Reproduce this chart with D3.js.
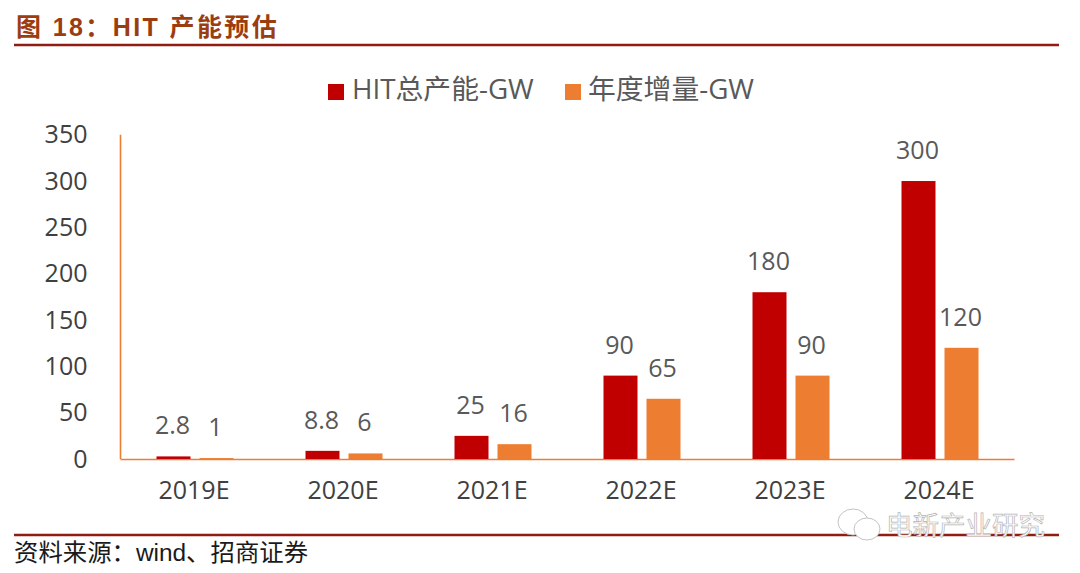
<!DOCTYPE html>
<html><head><meta charset="utf-8">
<script src="https://cdn.jsdelivr.net/npm/d3@7"></script>
<style>html,body{margin:0;padding:0;background:#fff}svg{display:block}</style>
</head><body><svg id="c" width="1080" height="573"></svg>
<script>
const categories=["2019E","2020E","2021E","2022E","2023E","2024E"];
const totalCapacity=[2.8,8.8,25,90,180,300];
const annualAdd=[1,6,16,65,90,120];
const yTicks=[0,50,100,150,200,250,300,350];
const seriesNames=["HIT总产能-GW","年度增量-GW"];
const titleText="图 18：HIT 产能预估";
const sourceText="资料来源：wind、招商证券";
const watermarkText="电新产业研究";

const sans='"Open Sans","Noto Sans CJK SC",sans-serif';
const cjk='"Liberation Sans","Noto Sans CJK SC",sans-serif';
const svg=d3.select("#c");
const x=d3.scaleBand().domain(categories).range([120.5,1014.5]);
const y=d3.scaleLinear().domain([0,350]).range([459,134.7]);
const barW=34,gap=9;
const red="#c00000",orange="#ed7d31",ink="#595959",rule="#8f1d12";

svg.append("text").attr("x",16).attr("y",36).attr("fill","#9c3d10")
  .style("font",`bold 25px ${cjk}`).style("letter-spacing","2.4px").text(titleText);
svg.append("line").attr("x1",14).attr("x2",1059).attr("y1",45).attr("y2",45).attr("stroke",rule).attr("stroke-width",2.5);
svg.append("line").attr("x1",14).attr("x2",1059).attr("y1",535).attr("y2",535).attr("stroke",rule).attr("stroke-width",2.5);

// legend
[[328,352],[565,588]].forEach((p,i)=>{
  svg.append("rect").attr("x",p[0]).attr("y",84).attr("width",16).attr("height",16).attr("fill",i?orange:red);
  svg.append("text").attr("x",p[1]).attr("y",99).attr("fill",ink)
    .style("font",`27.8px ${sans}`).text(seriesNames[i]);
});

// axes
const ga=svg.append("g").attr("transform","translate(120.5,0)")
  .call(d3.axisLeft(y).tickValues(yTicks).tickSize(0).tickPadding(33));
ga.select(".domain").attr("stroke",orange).attr("stroke-width",1.6).attr("d",`M0,${y(350)}V${y(0)}`);
ga.selectAll("text").attr("fill","#404040").style("font",`25px ${sans}`);

const gx=svg.append("g").attr("transform","translate(-1,459.5)")
  .call(d3.axisBottom(x).tickSize(0).tickPadding(22));
gx.select(".domain").attr("stroke",orange).attr("stroke-width",1.6).attr("d","M121.5,0H1015.5");
gx.selectAll("text").attr("fill","#404040").style("font",`25px ${sans}`);

// bars + labels
const cx=c=>x(c)+x.bandwidth()/2;
const series=[{v:totalCapacity,c:red,off:-gap/2-barW},{v:annualAdd,c:orange,off:gap/2}];
series.forEach(s=>{
  svg.append("g").selectAll("rect").data(categories).join("rect")
    .attr("x",d=>cx(d)+s.off).attr("width",barW)
    .attr("y",(d,i)=>y(s.v[i])).attr("height",(d,i)=>y(0)-y(s.v[i])).attr("fill",s.c);
  svg.append("g").selectAll("text").data(categories).join("text")
    .attr("x",d=>cx(d)+s.off+barW/2-1)
    .attr("y",(d,i)=>y(s.v[i])-22)
    .attr("text-anchor","middle").attr("fill",ink)
    .style("font",`25px ${sans}`).text((d,i)=>s.v[i]);
});

// source line
svg.append("text").attr("x",14).attr("y",561).attr("fill","#1a1a1a")
  .style("font",`24.4px ${cjk}`).text(sourceText);

// watermark
const wm=svg.append("g");
[[853,522,15,13],[867,529,13,11]].forEach(e=>{
  wm.append("ellipse").attr("cx",e[0]).attr("cy",e[1]).attr("rx",e[2]).attr("ry",e[3])
    .attr("fill","#fff").attr("stroke","#c4c4c4").attr("stroke-width",1);
});
wm.append("text").attr("x",886).attr("y",535).attr("fill","#fff").attr("stroke","#b5b5b5").attr("stroke-width",.7)
  .style("font",`26.5px ${cjk}`).text(watermarkText);
</script></body></html>
